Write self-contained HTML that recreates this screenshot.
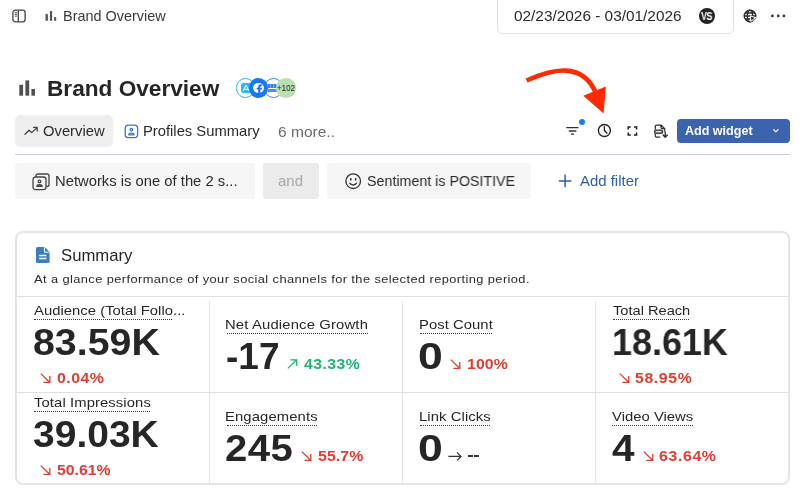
<!DOCTYPE html>
<html>
<head>
<meta charset="utf-8">
<title>Brand Overview</title>
<style>
html,body{margin:0;padding:0;background:#fff;}
body{width:802px;height:495px;position:relative;overflow:hidden;font-family:"Liberation Sans",sans-serif;}
.t{position:absolute;white-space:pre;line-height:1;transform-origin:0 50%;will-change:transform;}
.b{position:absolute;box-sizing:border-box;}
svg{position:absolute;overflow:visible;}
</style>
</head>
<body>
<!-- top bar -->
<div class="b" style="left:497px;top:-6px;width:237px;height:40px;border:1px solid #e2e2e2;border-radius:5px;"></div>
<svg style="left:12px;top:9px" width="14" height="14" viewBox="0 0 14 14" fill="none" stroke="#444" stroke-width="1.3"><rect x="0.9" y="1.2" width="12.2" height="11.6" rx="2.4"/><path d="M6.3 1.2V12.8"/><path d="M2.7 3.7h2.4M2.7 5.4h2.4M2.7 7.1h2.4" stroke-width="0.9"/></svg>
<svg style="left:45px;top:10px" width="12" height="12" viewBox="0 0 12 12" fill="#555"><rect x="0.5" y="4.1" width="2.4" height="6.7"/><rect x="4.9" y="1.1" width="2.2" height="9.7"/><rect x="9.1" y="7.1" width="2.1" height="3.7"/></svg>
<div class="b" style="left:698.8px;top:7.8px;width:16.4px;height:16.4px;border-radius:50%;background:#222;"></div>
<span class="t" style="left:701.3px;top:11px;font-size:10.5px;font-weight:700;color:#fff;letter-spacing:-0.7px;transform:scaleX(0.86)">VS</span>
<svg style="left:743px;top:9px" width="14" height="14" viewBox="0 0 14 14" fill="none" stroke="#2a2a2a" stroke-width="1.35"><circle cx="7" cy="7" r="5.8"/><ellipse cx="7" cy="7" rx="2.6" ry="5.8"/><path d="M1.2 7H12.8M2 4H12M2 10H12"/><path d="M7.4 6.9L12.9 8.7L10.6 9.9L12.2 12.3L11 13.1L9.4 10.7L7.9 12.5Z" fill="#2a2a2a" stroke="#fff" stroke-width="1"/></svg>
<svg style="left:770px;top:13px" width="16" height="6" viewBox="0 0 16 6" fill="#333"><circle cx="2.4" cy="2.9" r="1.35"/><circle cx="8.3" cy="2.9" r="1.35"/><circle cx="13.9" cy="2.9" r="1.35"/></svg>

<!-- title row -->
<svg style="left:19px;top:80px" width="17" height="18" viewBox="0 0 17 18" fill="#505050"><rect x="0.3" y="4.8" width="3.8" height="10.9"/><rect x="6.4" y="0.4" width="3.8" height="15.3"/><rect x="12.4" y="9" width="3.6" height="6.7"/></svg>
<!-- avatars -->
<div class="b" style="left:263.6px;top:78.3px;width:19.4px;height:19.4px;border-radius:50%;background:#fff;border:1.7px solid #4a86f0;"></div>
<div class="b" style="left:267.8px;top:83.8px;width:11px;height:3.8px;background:repeating-linear-gradient(90deg,#3f7de8 0 1.6px,#7aa7f6 1.6px 3.2px);"></div>
<div class="b" style="left:268.3px;top:88.6px;width:10px;height:3.6px;background:#4f8af0;"></div>
<div class="b" style="left:235.6px;top:78.3px;width:19.4px;height:19.4px;border-radius:50%;background:#fff;border:1.7px solid #2bb5f5;"></div>
<div class="b" style="left:240.5px;top:83px;width:10px;height:10px;border-radius:2.5px;background:#2bb5f5;"></div>
<svg style="left:241.5px;top:84px" width="8" height="8" viewBox="0 0 8 8" fill="none" stroke="#fff" stroke-width="1"><path d="M1 7L4 1L7 7M1.8 5.2H6.2"/></svg>
<div class="b" style="left:248.9px;top:78.3px;width:19.4px;height:19.4px;border-radius:50%;background:#1877f2;"></div>
<div class="b" style="left:253.3px;top:82.8px;width:10.6px;height:10.6px;border-radius:50%;background:#fff;"></div>
<svg style="left:256px;top:83.6px" width="7" height="10" viewBox="0 0 7 10"><path d="M2.2 10V5.6H0.6V3.8H2.2V2.6Q2.2 0.3 4.6 0.3L6 0.4V2H5.1Q4.3 2 4.3 2.8V3.8H6L5.7 5.6H4.3V10Z" fill="#1877f2"/></svg>
<div class="b" style="left:276.3px;top:78.3px;width:19.4px;height:19.4px;border-radius:50%;background:#b9e0b2;"></div>
<span class="t" style="left:277px;top:83.6px;font-size:9.2px;font-weight:400;color:#1c1c1c;transform:scaleX(0.87)">+102</span>

<!-- tabs -->
<div class="b" style="left:15px;top:115px;width:98px;height:32px;border-radius:5px;background:#efefef;"></div>
<svg style="left:24px;top:126px" width="15" height="10" viewBox="0 0 15 10" fill="none" stroke="#444" stroke-width="1.3" stroke-linejoin="round" stroke-linecap="round"><path d="M1 8.2L5 4.3L7.7 6.6L13 1.6M9.6 1.4H13.2V5"/></svg>
<svg style="left:124px;top:124px" width="15" height="15" viewBox="0 0 15 15" fill="none" stroke="#3a78c2" stroke-width="1.3"><rect x="1.2" y="1.2" width="12.4" height="12.4" rx="3.2"/><circle cx="7.4" cy="5.6" r="1.3"/><path d="M4.8 10.8C4.8 8.6 10 8.6 10 10.8Z" stroke-linejoin="round"/></svg>
<div class="b" style="left:15px;top:154px;width:775px;height:1px;background:#c4c9db;"></div>

<!-- toolbar -->
<svg style="left:566px;top:126px" width="13" height="10" viewBox="0 0 13 10" fill="none" stroke="#333" stroke-width="1.3"><path d="M0.3 1.7H12.5M2.8 5H10.4M4.9 8.2H8.1"/></svg>
<div class="b" style="left:578.8px;top:119.2px;width:6.2px;height:6.2px;border-radius:50%;background:#1a7cf0;"></div>
<svg style="left:597px;top:123px" width="15" height="15" viewBox="0 0 15 15" fill="none" stroke="#222" stroke-width="1.35" stroke-linecap="round"><circle cx="7.4" cy="7.5" r="6"/><path d="M7.4 3.6V7.6L9.9 10"/></svg>
<svg style="left:627px;top:126px" width="11" height="10" viewBox="0 0 11 10" fill="none" stroke="#222" stroke-width="1.5"><path d="M1.2 3.4V0.9H3.8M7 0.9H9.6V3.4M9.6 6.6V9.1H7M3.8 9.1H1.2V6.6"/></svg>
<svg style="left:654px;top:124px" width="14" height="14" viewBox="0 0 14 14" fill="none" stroke="#2e2e2e" stroke-width="1.25" stroke-linejoin="round"><path d="M1.3 5.6V2.3Q1.3 1 2.6 1H7L10.7 4.7V7.4M1.3 9.6V11.8Q1.3 13.1 2.6 13.1H6.2M7 1V3.6Q7 4.7 8.1 4.7H10.7"/><rect x="0.5" y="6" width="8.2" height="3.4" rx="0.9" fill="#777" stroke-width="1"/><path d="M2.2 7.7H7" stroke="#fff" stroke-width="1"/><path d="M11.2 7.8V12.9M9.1 11L11.2 13.2L13.3 11" stroke-linecap="round" stroke-width="1.35"/></svg>
<div class="b" style="left:677px;top:119px;width:113px;height:24px;border-radius:4px;background:#3b63ae;"></div>
<svg style="left:773px;top:129px" width="6" height="4" viewBox="0 0 6 4" fill="none" stroke="#fff" stroke-width="1.2" stroke-linecap="round" stroke-linejoin="round"><path d="M0.6 0.7L2.8 2.9L5 0.7"/></svg>

<!-- red arrow annotation -->
<svg style="left:0;top:0" width="802" height="495" viewBox="0 0 802 495"><path d="M526.5 80.5C552 69.2 582 61.2 596 93" fill="none" stroke="#ff2a00" stroke-width="4.6"/><path d="M583.3 95.7L605.8 86.4L603.6 113.6Z" fill="#ff2a00"/></svg>

<!-- filter row -->
<div class="b" style="left:15px;top:163px;width:240px;height:36px;border-radius:3px;background:#f6f6f6;"></div>
<div class="b" style="left:263px;top:163px;width:56px;height:36px;border-radius:3px;background:#ebebeb;"></div>
<div class="b" style="left:327px;top:163px;width:204px;height:36px;border-radius:3px;background:#f6f6f6;"></div>
<svg style="left:32px;top:172.5px" width="18" height="18" viewBox="0 0 18 18" fill="none" stroke="#444" stroke-width="1.3"><path d="M4 3.8V3Q4 1 6 1H15Q17 1 17 3V11.5Q17 13.5 15 13.5H14.4"/><rect x="1" y="4" width="13" height="12.6" rx="2.6" fill="#f6f6f6"/><circle cx="7.5" cy="8.4" r="1.3"/><path d="M4.9 13.4C4.9 11.2 10.1 11.2 10.1 13.4Z" stroke-linejoin="round"/></svg>
<svg style="left:345px;top:172.5px" width="17" height="17" viewBox="0 0 17 17" fill="none" stroke="#333" stroke-width="1.3" stroke-linecap="round"><circle cx="8.2" cy="8.2" r="7.3"/><path d="M4.8 10.2C6.2 12.6 10.2 12.6 11.6 10.2"/><circle cx="5.8" cy="6.3" r="0.7" fill="#333" stroke="none"/><circle cx="10.6" cy="6.3" r="0.7" fill="#333" stroke="none"/><path d="M5.8 5.6V7M10.6 5.6V7" stroke-width="1.4"/></svg>
<svg style="left:558px;top:174px" width="14" height="14" viewBox="0 0 14 14" fill="none" stroke="#2f5fa8" stroke-width="1.5"><path d="M7.1 0.6V13.2M0.8 6.9H13.4"/></svg>

<!-- summary card -->
<div class="b" style="left:15px;top:231px;width:775px;height:254px;border:2px solid #e5e5e5;border-radius:8px;"></div>
<svg style="left:36px;top:247px" width="14" height="16" viewBox="0 0 14 16"><path d="M1.6 0H8.6L13.6 5V14.4Q13.6 16 12 16H1.6Q0 16 0 14.4V1.6Q0 0 1.6 0Z" fill="#3a7dc0"/><path d="M8.4 0.4V5.2H13.2" fill="none" stroke="#fff" stroke-width="1"/><path d="M3.2 8.4H10.4M3.2 11.6H10.4" stroke="#fff" stroke-width="1.5"/></svg>
<div class="b" style="left:17px;top:296px;width:771px;height:1px;background:#e0e0e0;"></div>
<div class="b" style="left:17px;top:392px;width:771px;height:1px;background:#e0e0e0;"></div>
<div class="b" style="left:209px;top:301px;width:1px;height:182px;background:#e3e3e3;"></div>
<div class="b" style="left:402px;top:301px;width:1px;height:182px;background:#e3e3e3;"></div>
<div class="b" style="left:595px;top:301px;width:1px;height:182px;background:#e3e3e3;"></div>
<div class="b" style="left:34.0px;top:319px;width:138.0px;height:0;border-top:1px dotted #3c3c3c;"></div>
<svg style="left:39.9px;top:373.2px" width="11" height="10" viewBox="0 0 11 10" fill="none" stroke="#e03c31" stroke-width="1.3"><path d="M0.8 0.6L9.6 9.2M3.4 9.3H9.8V2.9"/></svg>
<div class="b" style="left:226.5px;top:333px;width:141.3px;height:0;border-top:1px dotted #3c3c3c;"></div>
<svg style="left:286.7px;top:359.1px" width="11" height="10" viewBox="0 0 11 10" fill="none" stroke="#1fb570" stroke-width="1.3"><path d="M0.8 9.4L9.6 0.8M3.4 0.8H9.7V7"/></svg>
<div class="b" style="left:419.6px;top:333px;width:72.4px;height:0;border-top:1px dotted #3c3c3c;"></div>
<svg style="left:450.0px;top:359.2px" width="11" height="10" viewBox="0 0 11 10" fill="none" stroke="#e03c31" stroke-width="1.3"><path d="M0.8 0.6L9.6 9.2M3.4 9.3H9.8V2.9"/></svg>
<div class="b" style="left:613.0px;top:319px;width:76.4px;height:0;border-top:1px dotted #3c3c3c;"></div>
<svg style="left:618.8px;top:373.2px" width="11" height="10" viewBox="0 0 11 10" fill="none" stroke="#e03c31" stroke-width="1.3"><path d="M0.8 0.6L9.6 9.2M3.4 9.3H9.8V2.9"/></svg>
<div class="b" style="left:34.0px;top:411px;width:116.0px;height:0;border-top:1px dotted #3c3c3c;"></div>
<svg style="left:40.0px;top:465.2px" width="11" height="10" viewBox="0 0 11 10" fill="none" stroke="#e03c31" stroke-width="1.3"><path d="M0.8 0.6L9.6 9.2M3.4 9.3H9.8V2.9"/></svg>
<div class="b" style="left:226.5px;top:425px;width:90.5px;height:0;border-top:1px dotted #3c3c3c;"></div>
<svg style="left:301.2px;top:451.2px" width="11" height="10" viewBox="0 0 11 10" fill="none" stroke="#e03c31" stroke-width="1.3"><path d="M0.8 0.6L9.6 9.2M3.4 9.3H9.8V2.9"/></svg>
<div class="b" style="left:467.5px;top:455.3px;width:5px;height:2.2px;background:#333333;"></div><div class="b" style="left:474.3px;top:455.3px;width:5px;height:2.2px;background:#333333;"></div>
<div class="b" style="left:419.6px;top:425px;width:70.7px;height:0;border-top:1px dotted #3c3c3c;"></div>
<svg style="left:448.0px;top:451.4px" width="14" height="10" viewBox="0 0 14 10" fill="none" stroke="#333333" stroke-width="1.3"><path d="M0.4 5.4H13M9 1.4L13 5.4L9 9.4"/></svg>
<div class="b" style="left:612.4px;top:425px;width:80.9px;height:0;border-top:1px dotted #3c3c3c;"></div>
<svg style="left:642.9px;top:451.2px" width="11" height="10" viewBox="0 0 11 10" fill="none" stroke="#e03c31" stroke-width="1.3"><path d="M0.8 0.6L9.6 9.2M3.4 9.3H9.8V2.9"/></svg>
<span class="t" style="left:62.99px;top:9.00px;font-size:14.3px;font-weight:400;color:#3a3a3a;letter-spacing:0.000px;transform:scaleX(1.0099)">Brand Overview</span>
<span class="t" style="left:513.92px;top:9.00px;font-size:14.3px;font-weight:400;color:#2b2b2b;letter-spacing:0.000px;transform:scaleX(1.0753)">02/23/2026 - 03/01/2026</span>
<span class="t" style="left:47.19px;top:78.00px;font-size:22.4px;font-weight:700;color:#262626;letter-spacing:0.000px;transform:scaleX(1.0107)">Brand Overview</span>
<span class="t" style="left:42.67px;top:124.00px;font-size:14.3px;font-weight:400;color:#2b2b2b;letter-spacing:0.000px;transform:scaleX(1.0339)">Overview</span>
<span class="t" style="left:142.97px;top:124.00px;font-size:14.3px;font-weight:400;color:#2b2b2b;letter-spacing:0.000px;transform:scaleX(1.0330)">Profiles Summary</span>
<span class="t" style="left:278.31px;top:125.00px;font-size:14.3px;font-weight:400;color:#6b6b6b;letter-spacing:0.000px;transform:scaleX(1.0860)">6 more..</span>
<span class="t" style="left:685.00px;top:125.00px;font-size:12.2px;font-weight:700;color:#ffffff;letter-spacing:0.000px;transform:scaleX(1.0292)">Add widget</span>
<span class="t" style="left:54.97px;top:174.00px;font-size:14.3px;font-weight:400;color:#2b2b2b;letter-spacing:0.000px;transform:scaleX(1.0345)">Networks is one of the 2 s...</span>
<span class="t" style="left:278.45px;top:174.00px;font-size:14.3px;font-weight:400;color:#a8a8a8;letter-spacing:0.000px;transform:scaleX(1.0455)">and</span>
<span class="t" style="left:367.00px;top:174.00px;font-size:14.3px;font-weight:400;color:#2b2b2b;letter-spacing:0.000px;transform:scaleX(0.9966)">Sentiment is POSITIVE</span>
<span class="t" style="left:579.50px;top:174.00px;font-size:14.3px;font-weight:400;color:#2f5fa8;letter-spacing:0.000px;transform:scaleX(1.0446)">Add filter</span>
<span class="t" style="left:60.68px;top:247.00px;font-size:16.4px;font-weight:400;color:#262626;letter-spacing:0.000px;transform:scaleX(1.0188)">Summary</span>
<span class="t" style="left:33.50px;top:274.00px;font-size:11.8px;font-weight:400;color:#2b2b2b;letter-spacing:0.366px;transform:scaleX(1.0900)">At a glance performance of your social channels for the selected reporting period.</span>
<span class="t" style="left:34.00px;top:304.00px;font-size:13.6px;font-weight:400;color:#262626;letter-spacing:0.027px;transform:scaleX(1.0900)">Audience (Total Follo...</span>
<span class="t" style="left:32.93px;top:325.00px;font-size:36.8px;font-weight:700;color:#262626;letter-spacing:0.000px;transform:scaleX(1.0684)">83.59K</span>
<span class="t" style="left:56.51px;top:371.00px;font-size:14.5px;font-weight:700;color:#e03c31;letter-spacing:0.459px;transform:scaleX(1.0900)">0.04%</span>
<span class="t" style="left:225.41px;top:318.00px;font-size:13.6px;font-weight:400;color:#262626;letter-spacing:0.146px;transform:scaleX(1.0900)">Net Audience Growth</span>
<span class="t" style="left:225.99px;top:339.00px;font-size:36.8px;font-weight:700;color:#262626;letter-spacing:0.000px;transform:scaleX(1.0059)">-17</span>
<span class="t" style="left:304.30px;top:357.00px;font-size:14.5px;font-weight:700;color:#1fb570;letter-spacing:0.420px;transform:scaleX(1.0900)">43.33%</span>
<span class="t" style="left:418.51px;top:318.00px;font-size:13.6px;font-weight:400;color:#262626;letter-spacing:0.047px;transform:scaleX(1.0900)">Post Count</span>
<span class="t" style="left:418.39px;top:339.00px;font-size:36.8px;font-weight:700;color:#262626;letter-spacing:0.000px;transform:scaleX(1.2111)">0</span>
<span class="t" style="left:466.61px;top:357.00px;font-size:14.5px;font-weight:700;color:#e03c31;letter-spacing:0.110px;transform:scaleX(1.0900)">100%</span>
<span class="t" style="left:613.00px;top:304.00px;font-size:13.6px;font-weight:400;color:#262626;letter-spacing:0.000px;transform:scaleX(1.0761)">Total Reach</span>
<span class="t" style="left:611.55px;top:325.00px;font-size:36.8px;font-weight:700;color:#262626;letter-spacing:0.000px;transform:scaleX(0.9767)">18.61K</span>
<span class="t" style="left:635.31px;top:371.00px;font-size:14.5px;font-weight:700;color:#e03c31;letter-spacing:0.565px;transform:scaleX(1.0900)">58.95%</span>
<span class="t" style="left:34.00px;top:396.00px;font-size:13.6px;font-weight:400;color:#262626;letter-spacing:0.089px;transform:scaleX(1.0900)">Total Impressions</span>
<span class="t" style="left:32.94px;top:417.00px;font-size:36.8px;font-weight:700;color:#262626;letter-spacing:0.000px;transform:scaleX(1.0598)">39.03K</span>
<span class="t" style="left:56.61px;top:463.00px;font-size:14.5px;font-weight:700;color:#e03c31;letter-spacing:0.000px;transform:scaleX(1.0896)">50.61%</span>
<span class="t" style="left:225.41px;top:410.00px;font-size:13.6px;font-weight:400;color:#262626;letter-spacing:0.103px;transform:scaleX(1.0900)">Engagements</span>
<span class="t" style="left:225.41px;top:431.00px;font-size:36.8px;font-weight:700;color:#262626;letter-spacing:0.367px;transform:scaleX(1.0900)">245</span>
<span class="t" style="left:317.61px;top:449.00px;font-size:14.5px;font-weight:700;color:#e03c31;letter-spacing:0.115px;transform:scaleX(1.0900)">55.7%</span>
<span class="t" style="left:418.51px;top:410.00px;font-size:13.6px;font-weight:400;color:#262626;letter-spacing:0.086px;transform:scaleX(1.0900)">Link Clicks</span>
<span class="t" style="left:418.39px;top:431.00px;font-size:36.8px;font-weight:700;color:#262626;letter-spacing:0.000px;transform:scaleX(1.2111)">0</span>
<span class="t" style="left:612.40px;top:410.00px;font-size:13.6px;font-weight:400;color:#262626;letter-spacing:0.022px;transform:scaleX(1.0900)">Video Views</span>
<span class="t" style="left:611.90px;top:431.00px;font-size:36.8px;font-weight:700;color:#262626;letter-spacing:0.000px;transform:scaleX(1.1000)">4</span>
<span class="t" style="left:659.11px;top:449.00px;font-size:14.5px;font-weight:700;color:#e03c31;letter-spacing:0.602px;transform:scaleX(1.0900)">63.64%</span>
</body>
</html>
